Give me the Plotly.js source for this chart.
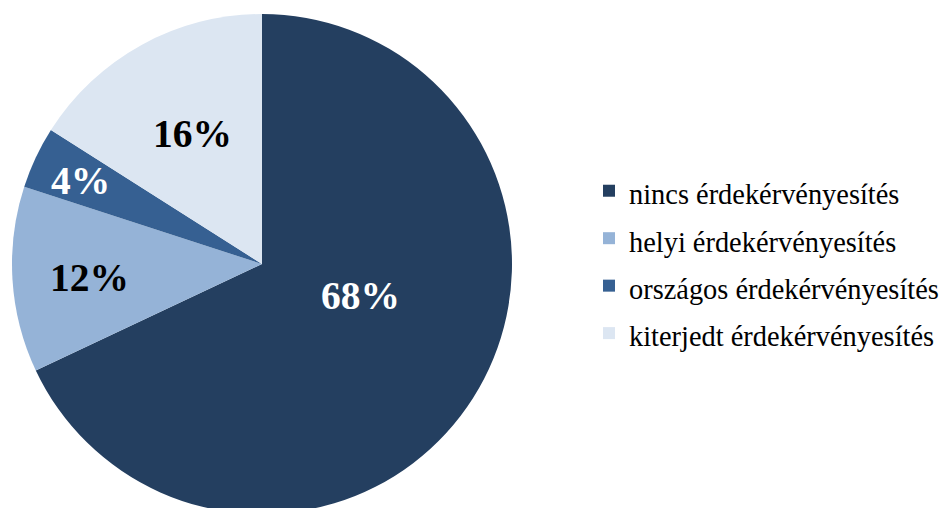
<!DOCTYPE html>
<html>
<head>
<meta charset="utf-8">
<script src="https://cdn.plot.ly/plotly-3.0.1.min.js"></script>
<style>
html, body { margin: 0; padding: 0; overflow: hidden; background: #fff; }
#chart { width: 980px; height: 528px; }
</style>
</head>
<body>
<div id="chart"></div>
<script>
const categories = ['nincs érdekérvényesítés', 'helyi érdekérvényesítés', 'országos érdekérvényesítés', 'kiterjedt érdekérvényesítés'];
const values = [68, 12, 4, 16];
const sliceColors = ['#243F60', '#95B3D7', '#366092', '#DCE6F2'];
const labelColors = ['#ffffff', '#000000', '#ffffff', '#000000'];
// label centres in pixels (x from left, y from top)
const labelPosPx = [[360, 296], [89, 278], [80, 181], [192, 134]];

// plotting surface is slightly larger than the 942x508 window; the overflow is hidden
const W = 980, H = 528;

const trace = {
  type: 'pie',
  labels: categories.map(c => '<span style="font-size:28.4px">' + c + '</span>'),
  values: values,
  sort: false,
  direction: 'clockwise',
  rotation: 0,
  textinfo: 'none',
  textposition: 'none',
  hoverinfo: 'none',
  marker: { colors: sliceColors, line: { width: 0 } },
  domain: { x: [12 / W, 512 / W], y: [14 / H, 514 / H] }
};

const annotations = values.map((v, i) => ({
  text: v + '%',
  xref: 'paper', yref: 'paper',
  x: labelPosPx[i][0] / W,
  y: 1 - labelPosPx[i][1] / H,
  xanchor: 'center', yanchor: 'middle',
  showarrow: false,
  font: { family: 'Liberation Serif', size: 39.5, color: labelColors[i], weight: 'bold' }
}));

const layout = {
  width: W, height: H,
  margin: { l: 0, r: 0, t: 0, b: 0 },
  paper_bgcolor: '#ffffff',
  showlegend: true,
  legend: {
    x: 589 / W, xanchor: 'left',
    y: 1 - 162 / H, yanchor: 'top',
    font: { family: 'Liberation Serif', size: 34.2, color: '#000000' },
    bgcolor: 'rgba(0,0,0,0)',
    borderwidth: 0
  },
  annotations: annotations
};

Plotly.newPlot('chart', [trace], layout, { displayModeBar: false, staticPlot: true });
</script>
</body>
</html>
